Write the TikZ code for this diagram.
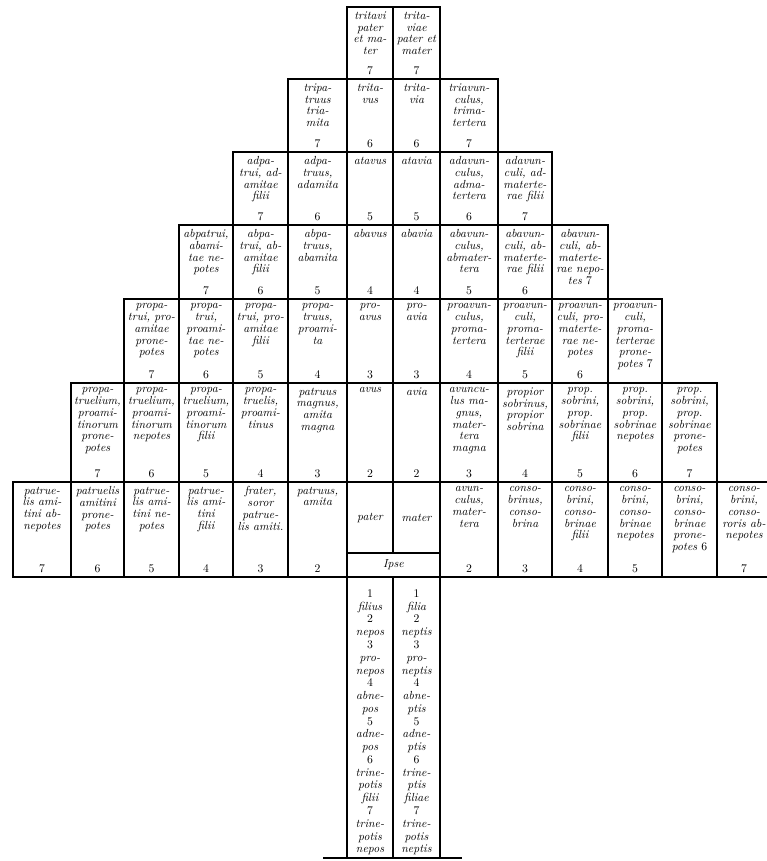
\documentclass[tikz,border=0pt]{standalone}
\usepackage{tikz}
\newdimen\kinpx \kinpx=0.3mm
\newcommand{\kn}[1]{{\upshape #1}}
\newcommand{\kinbox}[4]{\begin{minipage}[t][#2\kinpx][t]{#1\kinpx}\centering
  \vspace*{4pt}#3\par\vfill\kn{#4}\par\vspace*{3.5pt}\end{minipage}}
\newcommand{\kinmid}[3]{\begin{minipage}[t][#2\kinpx][c]{#1\kinpx}\centering #3\end{minipage}}
\newcommand{\kinstem}[3]{\begin{minipage}[t][#2\kinpx][b]{#1\kinpx}\centering
  \fontsize{10}{10.9}\selectfont #3\par\vspace*{2.5pt}\end{minipage}}

\begin{document}
\begin{tikzpicture}[
        x=0.3mm, y=-0.3mm,
        cell/.style={draw, line width=1.2pt, inner sep=0pt, outer sep=0pt, anchor=north west, font=\fontsize{10}{10}\selectfont\itshape},
        heavy/.style={line width=2.4pt}
    ]
        \useasboundingbox (0,0) rectangle (766,861);

        \node[cell] (r1c7) at (347,7) {\kinbox{46}{72}{tritavi\\pater\\et ma-\\ter}{7}};
        \node[cell] (r1c8) at (393,7) {\kinbox{47}{72}{trita-\\viae\\pater et\\mater}{7}};

        \node[cell] (r2c6) at (288,79) {\kinbox{59}{73}{tripa-\\truus\\tria-\\mita}{7}};
        \node[cell] (r2c7) at (347,79) {\kinbox{46}{73}{trita-\\vus}{6}};
        \node[cell] (r2c8) at (393,79) {\kinbox{47}{73}{trita-\\via}{6}};
        \node[cell] (r2c9) at (440,79) {\kinbox{58}{73}{triavun-\\culus,\\trima-\\tertera}{7}};

        \node[cell] (r3c5) at (233,152) {\kinbox{55}{73}{adpa-\\trui, ad-\\amitae\\filii}{7}};
        \node[cell] (r3c6) at (288,152) {\kinbox{59}{73}{adpa-\\truus,\\adamita}{6}};
        \node[cell] (r3c7) at (347,152) {\kinbox{46}{73}{atavus}{5}};
        \node[cell] (r3c8) at (393,152) {\kinbox{47}{73}{atavia}{5}};
        \node[cell] (r3c9) at (440,152) {\kinbox{58}{73}{adavun-\\culus,\\adma-\\tertera}{6}};
        \node[cell] (r3c10) at (498,152) {\kinbox{54}{73}{adavun-\\culi, ad-\\materte-\\rae filii}{7}};

        \node[cell] (r4c4) at (179,225) {\kinbox{54}{74}{abpatrui,\\abami-\\tae ne-\\potes}{7}};
        \node[cell] (r4c5) at (233,225) {\kinbox{55}{74}{abpa-\\trui, ab-\\amitae\\filii}{6}};
        \node[cell] (r4c6) at (288,225) {\kinbox{59}{74}{abpa-\\truus,\\abamita}{5}};
        \node[cell] (r4c7) at (347,225) {\kinbox{46}{74}{abavus}{4}};
        \node[cell] (r4c8) at (393,225) {\kinbox{47}{74}{abavia}{4}};
        \node[cell] (r4c9) at (440,225) {\kinbox{58}{74}{abavun-\\culus,\\abmater-\\tera}{5}};
        \node[cell] (r4c10) at (498,225) {\kinbox{54}{74}{abavun-\\culi, ab-\\materte-\\rae filii}{6}};
        \node[cell] (r4c11) at (552,225) {\kinbox{56}{74}{abavun-\\culi, ab-\\materte-\\rae nepo-\\tes \kn{7}}{}};

        \node[cell] (r5c3) at (124,299) {\kinbox{55}{84}{propa-\\trui, pro-\\amitae\\prone-\\potes}{7}};
        \node[cell] (r5c4) at (179,299) {\kinbox{54}{84}{propa-\\trui,\\proami-\\tae ne-\\potes}{6}};
        \node[cell] (r5c5) at (233,299) {\kinbox{55}{84}{propa-\\trui, pro-\\amitae\\filii}{5}};
        \node[cell] (r5c6) at (288,299) {\kinbox{59}{84}{propa-\\truus,\\proami-\\ta}{4}};
        \node[cell] (r5c7) at (347,299) {\kinbox{46}{84}{pro-\\avus}{3}};
        \node[cell] (r5c8) at (393,299) {\kinbox{47}{84}{pro-\\avia}{3}};
        \node[cell] (r5c9) at (440,299) {\kinbox{58}{84}{proavun-\\culus,\\proma-\\tertera}{4}};
        \node[cell] (r5c10) at (498,299) {\kinbox{54}{84}{proavun-\\culi,\\proma-\\terterae\\filii}{5}};
        \node[cell] (r5c11) at (552,299) {\kinbox{56}{84}{proavun-\\culi, pro-\\materte-\\rae ne-\\potes}{6}};
        \node[cell] (r5c12) at (608,299) {\kinbox{54}{84}{proavun-\\culi,\\proma-\\terterae\\prone-\\potes \kn{7}}{}};

        \node[cell] (r6c2) at (71,383) {\kinbox{53}{99}{propa-\\truelium,\\proami-\\tinorum\\prone-\\potes}{7}};
        \node[cell] (r6c3) at (124,383) {\kinbox{55}{99}{propa-\\truelium,\\proami-\\tinorum\\nepotes}{6}};
        \node[cell] (r6c4) at (179,383) {\kinbox{54}{99}{propa-\\truelium,\\proami-\\tinorum\\filii}{5}};
        \node[cell] (r6c5) at (233,383) {\kinbox{55}{99}{propa-\\truelis,\\proami-\\tinus}{4}};
        \node[cell] (r6c6) at (288,383) {\kinbox{59}{99}{patruus\\magnus,\\amita\\magna}{3}};
        \node[cell] (r6c7) at (347,383) {\kinbox{46}{99}{avus}{2}};
        \node[cell] (r6c8) at (393,383) {\kinbox{47}{99}{avia}{2}};
        \node[cell] (r6c9) at (440,383) {\kinbox{58}{99}{avuncu-\\lus ma-\\gnus,\\mater-\\tera\\magna}{3}};
        \node[cell] (r6c10) at (498,383) {\kinbox{54}{99}{propior\\sobrinus,\\propior\\sobrina}{4}};
        \node[cell] (r6c11) at (552,383) {\kinbox{56}{99}{prop.\\sobrini,\\prop.\\sobrinae\\filii}{5}};
        \node[cell] (r6c12) at (608,383) {\kinbox{54}{99}{prop.\\sobrini,\\prop.\\sobrinae\\nepotes}{6}};
        \node[cell] (r6c13) at (662,383) {\kinbox{55}{99}{prop.\\sobrini,\\prop.\\sobrinae\\prone-\\potes}{7}};

        \node[cell] (r7c1) at (13,482) {\kinbox{58}{95}{patrue-\\lis ami-\\tini ab-\\nepotes}{7}};
        \node[cell] (r7c2) at (71,482) {\kinbox{53}{95}{patruelis\\amitini\\prone-\\potes}{6}};
        \node[cell] (r7c3) at (124,482) {\kinbox{55}{95}{patrue-\\lis ami-\\tini ne-\\potes}{5}};
        \node[cell] (r7c4) at (179,482) {\kinbox{54}{95}{patrue-\\lis ami-\\tini\\filii}{4}};
        \node[cell] (r7c5) at (233,482) {\kinbox{55}{95}{frater,\\soror\\patrue-\\lis amiti.}{3}};
        \node[cell] (r7c6) at (288,482) {\kinbox{59}{95}{patruus,\\amita}{2}};
        \node[cell] (pater) at (347,482) {\kinmid{46}{71}{pater}};
        \node[cell] (mater) at (393,482) {\kinmid{47}{71}{mater}};
        \node[cell] (ipse) at (347,553) {\kinmid{93}{24}{Ipse}};
        \node[cell] (r7c9) at (440,482) {\kinbox{58}{95}{avun-\\culus,\\mater-\\tera}{2}};
        \node[cell] (r7c10) at (498,482) {\kinbox{54}{95}{conso-\\brinus,\\conso-\\brina}{3}};
        \node[cell] (r7c11) at (552,482) {\kinbox{56}{95}{conso-\\brini,\\conso-\\brinae\\filii}{4}};
        \node[cell] (r7c12) at (608,482) {\kinbox{54}{95}{conso-\\brini,\\conso-\\brinae\\nepotes}{5}};
        \node[cell] (r7c13) at (662,482) {\kinbox{55}{95}{conso-\\brini,\\conso-\\brinae\\prone-\\potes \kn{6}}{}};
        \node[cell] (r7c14) at (717,482) {\kinbox{54}{95}{conso-\\brini,\\conso-\\roris ab-\\nepotes}{7}};

        \node[cell] (filius) at (347,577) {\kinstem{46}{281}{\kn{1}\\filius\\\kn{2}\\nepos\\\kn{3}\\pro-\\nepos\\\kn{4}\\abne-\\pos\\\kn{5}\\adne-\\pos\\\kn{6}\\trine-\\potis\\filii\\\kn{7}\\trine-\\potis\\nepos}};
        \node[cell] (filia) at (393,577) {\kinstem{47}{281}{\kn{1}\\filia\\\kn{2}\\neptis\\\kn{3}\\pro-\\neptis\\\kn{4}\\abne-\\ptis\\\kn{5}\\adne-\\ptis\\\kn{6}\\trine-\\ptis\\filiae\\\kn{7}\\trine-\\potis\\neptis}};

        \draw[heavy] (r7c1.north west) -- (r7c14.north east);
        \draw[heavy] (r7c1.south west) -- (r7c14.south east);
        \draw[heavy] (323,858) -- (462,858);
    \end{tikzpicture}
\end{document}
